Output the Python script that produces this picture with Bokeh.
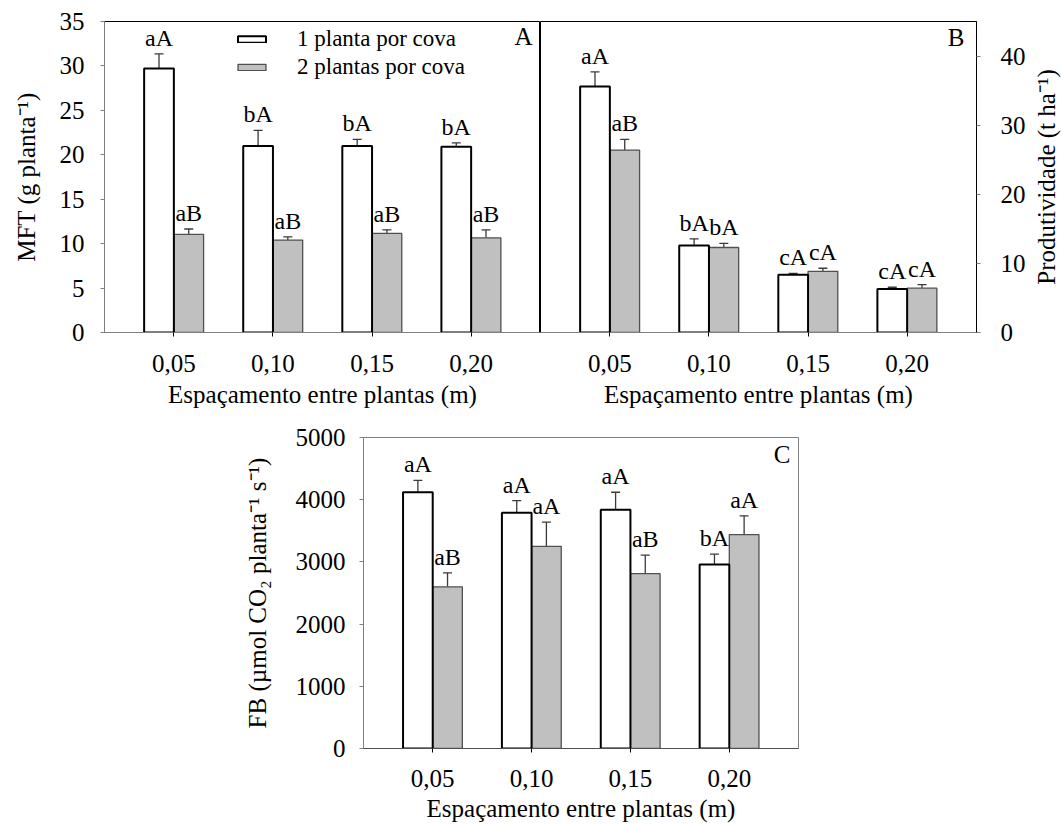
import math
import numpy as np
from bokeh.plotting import figure
from bokeh.layouts import column, row
from bokeh.models import (ColumnDataSource, Range1d, FixedTicker, Whisker, TeeHead,
                          Legend, LegendItem, Spacer)
from bokeh.core.properties import value
from bokeh.embed import file_html
from bokeh.resources import INLINE

# ---------------- data ----------------
spacings = ["0,05", "0,10", "0,15", "0,20"]
series_names = ["1 planta por cova", "2 plantas por cova"]

mft_1 = [29.7, 21.0, 21.0, 20.9]
mft_1_err = [1.65, 1.75, 0.73, 0.45]
mft_1_lbl = ["aA", "bA", "bA", "bA"]
mft_2 = [11.05, 10.4, 11.15, 10.65]
mft_2_err = [0.6, 0.37, 0.41, 0.9]
mft_2_lbl = ["aB", "aB", "aB", "aB"]

prod_1 = [35.6, 12.6, 8.35, 6.3]
prod_1_err = [2.1, 0.95, 0.2, 0.25]
prod_1_lbl = ["aA", "bA", "cA", "cA"]
prod_2 = [26.4, 12.3, 8.85, 6.42]
prod_2_err = [1.55, 0.6, 0.45, 0.5]
prod_2_lbl = ["aB", "bA", "cA", "cA"]

fb_1 = [4120, 3790, 3840, 2960]
fb_1_err = [190, 195, 280, 165]
fb_1_lbl = ["aA", "aA", "aA", "bA"]
fb_2 = [2600, 3250, 2810, 3440]
fb_2_err = [225, 390, 300, 300]
fb_2_lbl = ["aB", "aA", "aB", "aA"]

mft_ticks = [0, 5, 10, 15, 20, 25, 30, 35]
prod_ticks = [0, 10, 20, 30, 40]
fb_ticks = [0, 1000, 2000, 3000, 4000, 5000]

x_title = "Espaçamento entre plantas (m)"
y_title_a = "MFT (g planta\u207b\u00b9)"
y_title_b = "Produtividade (t ha\u207b\u00b9)"
y_title_c = "FB (\u00b5mol CO\u2082 planta\u207b\u00b9 s\u207b\u00b9)"

# ---------------- style ----------------
FONT = "Liberation Serif"
BAR_W = 0.3
X_START, X_END = 0.3, 4.7
GRAY_FILL = "#c0c0c0"
GRAY_LINE = "#505050"
AXIS_GRAY = "#7f7f7f"
ERR_COLOR = "#3a3a3a"


def make_panel(v1, e1, l1, v2, e2, l2, y_end, ticks, ylabel, letter, letter_off,
               side, width, height, borders, outline, xaxis_cfg, yaxis_cfg,
               legend_loc=None):
    xs = np.arange(1, len(spacings) + 1)
    p = figure(width=width, height=height,
               x_range=Range1d(X_START, X_END), y_range=Range1d(0, y_end),
               output_backend="svg", toolbar_location=None, tools="",
               y_axis_location=side,
               min_border_left=borders[0], min_border_right=borders[1],
               min_border_top=borders[2], min_border_bottom=borders[3])
    p.grid.visible = False
    p.outline_line_color = outline
    p.outline_line_width = 1
    p.background_fill_color = "white"
    p.border_fill_color = "white"

    src1 = ColumnDataSource(dict(x=xs - BAR_W / 2, top=v1,
                                 upper=np.array(v1, float) + np.array(e1, float), lbl=l1))
    src2 = ColumnDataSource(dict(x=xs + BAR_W / 2, top=v2,
                                 upper=np.array(v2, float) + np.array(e2, float), lbl=l2))

    r2 = p.vbar(x="x", top="top", bottom=0, width=BAR_W, source=src2,
                fill_color=GRAY_FILL, line_color=GRAY_LINE, line_width=1.3)
    r1 = p.vbar(x="x", top="top", bottom=0, width=BAR_W, source=src1,
                fill_color="white", line_color="black", line_width=2)

    for src in (src1, src2):
        w = Whisker(source=src, base="x", lower="top", upper="upper", dimension="height",
                    line_color=ERR_COLOR, line_width=1.3,
                    upper_head=TeeHead(size=9, line_color=ERR_COLOR, line_width=1.3),
                    lower_head=None)
        p.add_layout(w)
        p.text(x="x", y="upper", text="lbl", source=src, text_align="center",
               text_baseline="alphabetic", y_offset=-16,
               text_font=value(FONT), text_font_size="24px", text_color="black")

    p.text(x=[X_END], y=[y_end], text=[letter], x_offset=letter_off[0], y_offset=letter_off[1],
           text_align="right", text_baseline="alphabetic",
           text_font=value(FONT), text_font_size="25px", text_color="black")

    # x axis
    xa = p.xaxis[0]
    xa.ticker = FixedTicker(ticks=[int(i) for i in xs])
    xa.major_label_overrides = {int(i): s for i, s in zip(xs, spacings)}
    xa.axis_label = x_title
    xa.axis_label_text_font = FONT
    xa.axis_label_text_font_style = "normal"
    xa.axis_label_text_font_size = "25px"
    xa.axis_label_text_color = "black"
    xa.major_label_text_font = FONT
    xa.major_label_text_font_size = "25px"
    xa.major_label_text_color = "black"
    xa.axis_line_color = xaxis_cfg["line"]
    xa.major_tick_line_color = "black"
    xa.major_tick_in = 0
    xa.major_tick_out = 4
    xa.minor_tick_line_color = None
    xa.major_label_standoff = xaxis_cfg["tick_standoff"]
    xa.axis_label_standoff = xaxis_cfg["label_standoff"]

    ya = p.yaxis[0]
    ya.ticker = FixedTicker(ticks=ticks)
    if ylabel is not None:
        ya.axis_label = ylabel
    ya.axis_label_text_font = FONT
    ya.axis_label_text_font_style = "normal"
    ya.axis_label_text_font_size = "25px"
    ya.axis_label_text_color = "black"
    ya.major_label_text_font = FONT
    ya.major_label_text_font_size = "25px"
    ya.major_label_text_color = "black"
    ya.axis_line_color = yaxis_cfg["line"]
    ya.major_tick_line_color = AXIS_GRAY
    ya.major_tick_in = 0
    ya.major_tick_out = 4
    ya.minor_tick_line_color = None
    ya.major_label_standoff = yaxis_cfg["tick_standoff"]
    ya.axis_label_standoff = yaxis_cfg["label_standoff"]

    if legend_loc is not None:
        legend = Legend(items=[LegendItem(label=series_names[0], renderers=[r1]),
                               LegendItem(label=series_names[1], renderers=[r2])],
                        location=legend_loc, glyph_width=35, glyph_height=8,
                        label_standoff=28, spacing=2, padding=0, margin=0,
                        border_line_color=None, background_fill_alpha=0,
                        label_text_font=FONT, label_text_font_size="23px",
                        label_text_color="black")
        p.add_layout(legend)
    return p


def side_title(text, width, height, borders):
    """Narrow strip holding the right-hand title, read from bottom to top."""
    t = figure(width=width, height=height, x_range=Range1d(0, 1), y_range=Range1d(0, 1),
               output_backend="svg", toolbar_location=None, tools="",
               x_axis_type=None, y_axis_type=None,
               min_border_left=0, min_border_right=0,
               min_border_top=borders[0], min_border_bottom=borders[1])
    t.grid.visible = False
    t.outline_line_color = None
    t.border_fill_color = "white"
    t.text(x=[0.5], y=[0.5], text=[text], angle=math.pi / 2,
           text_align="center", text_baseline="middle",
           text_font=value(FONT), text_font_size="25px", text_color="black")
    return t


pA = make_panel(mft_1, mft_1_err, mft_1_lbl, mft_2, mft_2_err, mft_2_lbl,
                35, mft_ticks, y_title_a, "A", (-8, 15),
                "left", 540, 422, (104, 0, 21, 90), "black",
                dict(line=AXIS_GRAY, tick_standoff=18, label_standoff=6),
                dict(line=AXIS_GRAY, tick_standoff=16, label_standoff=17),
                legend_loc=(130, 252))

pB = make_panel(prod_1, prod_1_err, prod_1_lbl, prod_2, prod_2_err, prod_2_lbl,
                45, prod_ticks, None, "B", (-12, 16),
                "right", 490, 422, (0, 54, 21, 90), "black",
                dict(line=AXIS_GRAY, tick_standoff=18, label_standoff=6),
                dict(line="black", tick_standoff=20, label_standoff=0))

pB_title = side_title(y_title_b, 32, 422, (21, 90))

pC = make_panel(fb_1, fb_1_err, fb_1_lbl, fb_2, fb_2_err, fb_2_lbl,
                5000, fb_ticks, y_title_c, "C", (-8, 17),
                "left", 568, 402, (122, 10, 15, 76), AXIS_GRAY,
                dict(line="#505050", tick_standoff=17, label_standoff=5),
                dict(line=AXIS_GRAY, tick_standoff=14, label_standoff=22))

layout = column(row(pA, pB, pB_title, spacing=0),
                row(Spacer(width=240, height=402), pC, spacing=0),
                spacing=0)

open("out.html", "w").write(file_html(layout, INLINE))
